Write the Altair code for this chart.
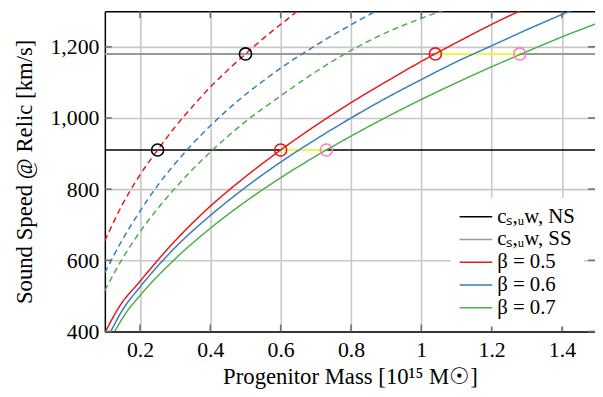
import altair as alt
import pandas as pd

# ---- data ----
NS_LABEL = "cₛ,ᵤw, NS"
SS_LABEL = "cₛ,ᵤw, SS"
beta_labels = ["β = 0.5", "β = 0.6", "β = 0.7"]

red_solid_m = [0.102, 0.14, 0.2, 0.3, 0.4, 0.5, 0.6, 0.7, 0.8, 0.9, 1.0, 1.1, 1.2, 1.3]
red_solid_v = [400, 468, 541, 655, 752, 835, 910, 979, 1043, 1102, 1159, 1212, 1263, 1310]

blue_solid_m = [0.117, 0.15, 0.2, 0.3, 0.4, 0.5, 0.6, 0.7, 0.8, 0.9, 1.0, 1.1, 1.2, 1.3, 1.4, 1.46]
blue_solid_v = [400, 460, 525, 636, 726, 805, 876, 940, 1000, 1056, 1108, 1158, 1203, 1248, 1291, 1316]

green_solid_m = [0.128, 0.16, 0.2, 0.3, 0.4, 0.5, 0.6, 0.73, 0.8, 0.9, 1.0, 1.1, 1.2, 1.28, 1.4, 1.5]
green_solid_v = [400, 452, 501, 604, 690, 765, 832, 910, 949, 1002, 1052, 1099, 1144, 1178, 1228, 1266]

red_dash_m = [0.1, 0.15, 0.2, 0.25, 0.3, 0.35, 0.4, 0.45, 0.5, 0.55, 0.6, 0.65]
red_dash_v = [655, 757, 840, 910, 975, 1033, 1087, 1135, 1180, 1223, 1263, 1302]

blue_dash_m = [0.1, 0.15, 0.2, 0.25, 0.3, 0.35, 0.4, 0.45, 0.5, 0.55, 0.6, 0.7, 0.8, 0.87]
blue_dash_v = [565, 658, 738, 810, 872, 928, 978, 1024, 1066, 1104, 1140, 1204, 1262, 1300]

green_dash_m = [0.1, 0.15, 0.2, 0.25, 0.3, 0.35, 0.4, 0.5, 0.6, 0.7, 0.8, 0.9, 1.0, 1.08]
green_dash_v = [515, 605, 680, 745, 803, 856, 904, 990, 1062, 1130, 1190, 1240, 1280, 1308]

hline_v = [910, 1180]
hline_series = [NS_LABEL, SS_LABEL]
hline_w = [1.5, 2.0]

seg_m1 = [0.6, 1.04]
seg_m2 = [0.73, 1.28]
seg_v = [910, 1180]

circ_m = [0.25, 0.5, 0.6, 1.04, 0.73, 1.28]
circ_v = [910, 1180, 910, 1180, 910, 1180]
circ_c = ["#000000", "#000000", "#e41a1c", "#e41a1c", "#f781bf", "#f781bf"]

x_ticks = [0.2, 0.4, 0.6, 0.8, 1.0, 1.2, 1.4]
y_ticks = [400, 600, 800, 1000, 1200]

# ---- tables ----
rows = []
for name, ser, sty, ms, vs in [
    ("rs", beta_labels[0], "solid", red_solid_m, red_solid_v),
    ("bs", beta_labels[1], "solid", blue_solid_m, blue_solid_v),
    ("gs", beta_labels[2], "solid", green_solid_m, green_solid_v),
    ("rd", beta_labels[0], "dashed", red_dash_m, red_dash_v),
    ("bd", beta_labels[1], "dashed", blue_dash_m, blue_dash_v),
    ("gd", beta_labels[2], "dashed", green_dash_m, green_dash_v),
]:
    for m, v in zip(ms, vs):
        rows.append({"id": name, "series": ser, "style": sty, "m": m, "v": v})
curves_df = pd.DataFrame(rows)
hl_df = pd.DataFrame({"v": hline_v, "series": hline_series, "w": hline_w})
seg_df = pd.DataFrame({"m1": seg_m1, "m2": seg_m2, "v": seg_v})
circ_df = pd.DataFrame({"m": circ_m, "v": circ_v, "c": circ_c})
xt_df = pd.DataFrame({"t": x_ticks})
yt_df = pd.DataFrame({"t": y_ticks})

W, H = 496, 324
FONT = "Liberation Serif"

xs = alt.Scale(domain=[0.1, 1.494], nice=False, zero=False)
ys = alt.Scale(domain=[400, 1300], nice=False, zero=False)

y_axis = alt.Axis(values=y_ticks, format=",d", grid=True, ticks=False, domain=True,
                  title="Sound Speed @ Relic [km/s]", labelPadding=6, titlePadding=14)
x_axis = alt.Axis(values=x_ticks, format="~g", grid=True, ticks=False, domain=True,
                  title="Progenitor Mass [10¹⁵ M☉]", labelPadding=8, titlePadding=6)

color = alt.Color(
    "series:N",
    scale=alt.Scale(domain=[NS_LABEL, SS_LABEL] + beta_labels,
                    range=["#000000", "#999999", "#e41a1c", "#377eb8", "#4daf4a"]),
    legend=alt.Legend(orient="none", legendX=350, legendY=189, title=None,
                      fillColor="white", padding=8, symbolType="stroke",
                      symbolSize=1089, symbolStrokeWidth=1.5, labelFont=FONT,
                      labelFontSize=21, labelColor="black", rowPadding=1,
                      clipHeight=22, labelOffset=4),
)

hlines = alt.Chart(hl_df).mark_rule().encode(
    y=alt.Y("v:Q", scale=ys, axis=y_axis),
    color=color,
    strokeWidth=alt.StrokeWidth("w:Q", scale=None, legend=None),
)

segs = alt.Chart(seg_df).mark_rule(color="#f5f53a", strokeWidth=2).encode(
    x=alt.X("m1:Q", scale=xs, axis=None),
    x2="m2:Q",
    y=alt.Y("v:Q", scale=ys, axis=y_axis),
)

curves = alt.Chart(curves_df).mark_line(strokeWidth=1.5, clip=True,
                                        interpolate="monotone").encode(
    x=alt.X("m:Q", scale=xs, axis=x_axis),
    y=alt.Y("v:Q", scale=ys, axis=y_axis),
    color=color,
    strokeDash=alt.StrokeDash("style:N", scale=alt.Scale(domain=["solid", "dashed"],
                                                         range=[[1, 0], [6, 4]]), legend=None),
    detail="id:N",
)

circles = alt.Chart(circ_df).mark_point(shape="circle", filled=False, size=150,
                                        strokeWidth=1.6, opacity=1).encode(
    x=alt.X("m:Q", scale=xs, axis=None),
    y=alt.Y("v:Q", scale=ys, axis=y_axis),
    stroke=alt.Stroke("c:N", scale=None),
)

tick_col = "#707070"
tb = alt.Chart(xt_df).mark_rule(color=tick_col, strokeWidth=1.6).encode(
    x=alt.X("t:Q", scale=xs, axis=None), y=alt.value(H), y2=alt.value(H - 7))
tt = alt.Chart(xt_df).mark_rule(color=tick_col, strokeWidth=1.6).encode(
    x=alt.X("t:Q", scale=xs, axis=alt.Axis(orient="top", labels=False, ticks=False,
                                           grid=False, domain=True, title=None)),
    y=alt.value(0), y2=alt.value(7))
tl = alt.Chart(yt_df).mark_rule(color=tick_col, strokeWidth=1.6).encode(
    y=alt.Y("t:Q", scale=ys, axis=y_axis), x=alt.value(0), x2=alt.value(7))
tr = alt.Chart(yt_df).mark_rule(color=tick_col, strokeWidth=1.6).encode(
    y=alt.Y("t:Q", scale=ys, axis=y_axis), x=alt.value(W), x2=alt.value(W - 7))

chart = (
    alt.layer(hlines, segs, curves, circles, tb, tt, tl, tr)
    .resolve_axis(x="independent")
    .properties(width=W, height=H,
                padding={"left": 98, "top": 1, "right": 0, "bottom": 62},
                autosize=alt.AutoSizeParams(type="none"))
    .configure_view(stroke=None)
    .configure_axis(labelFont=FONT, labelFontSize=22, labelColor="black",
                    titleFont=FONT, titleFontSize=23, titleFontWeight="normal",
                    titleColor="black", gridColor="#c8c8c8", gridWidth=1.6,
                    domainColor="black", domainWidth=1.5)
)

chart.save("out.html", embed_options={"renderer": "svg", "actions": False})
